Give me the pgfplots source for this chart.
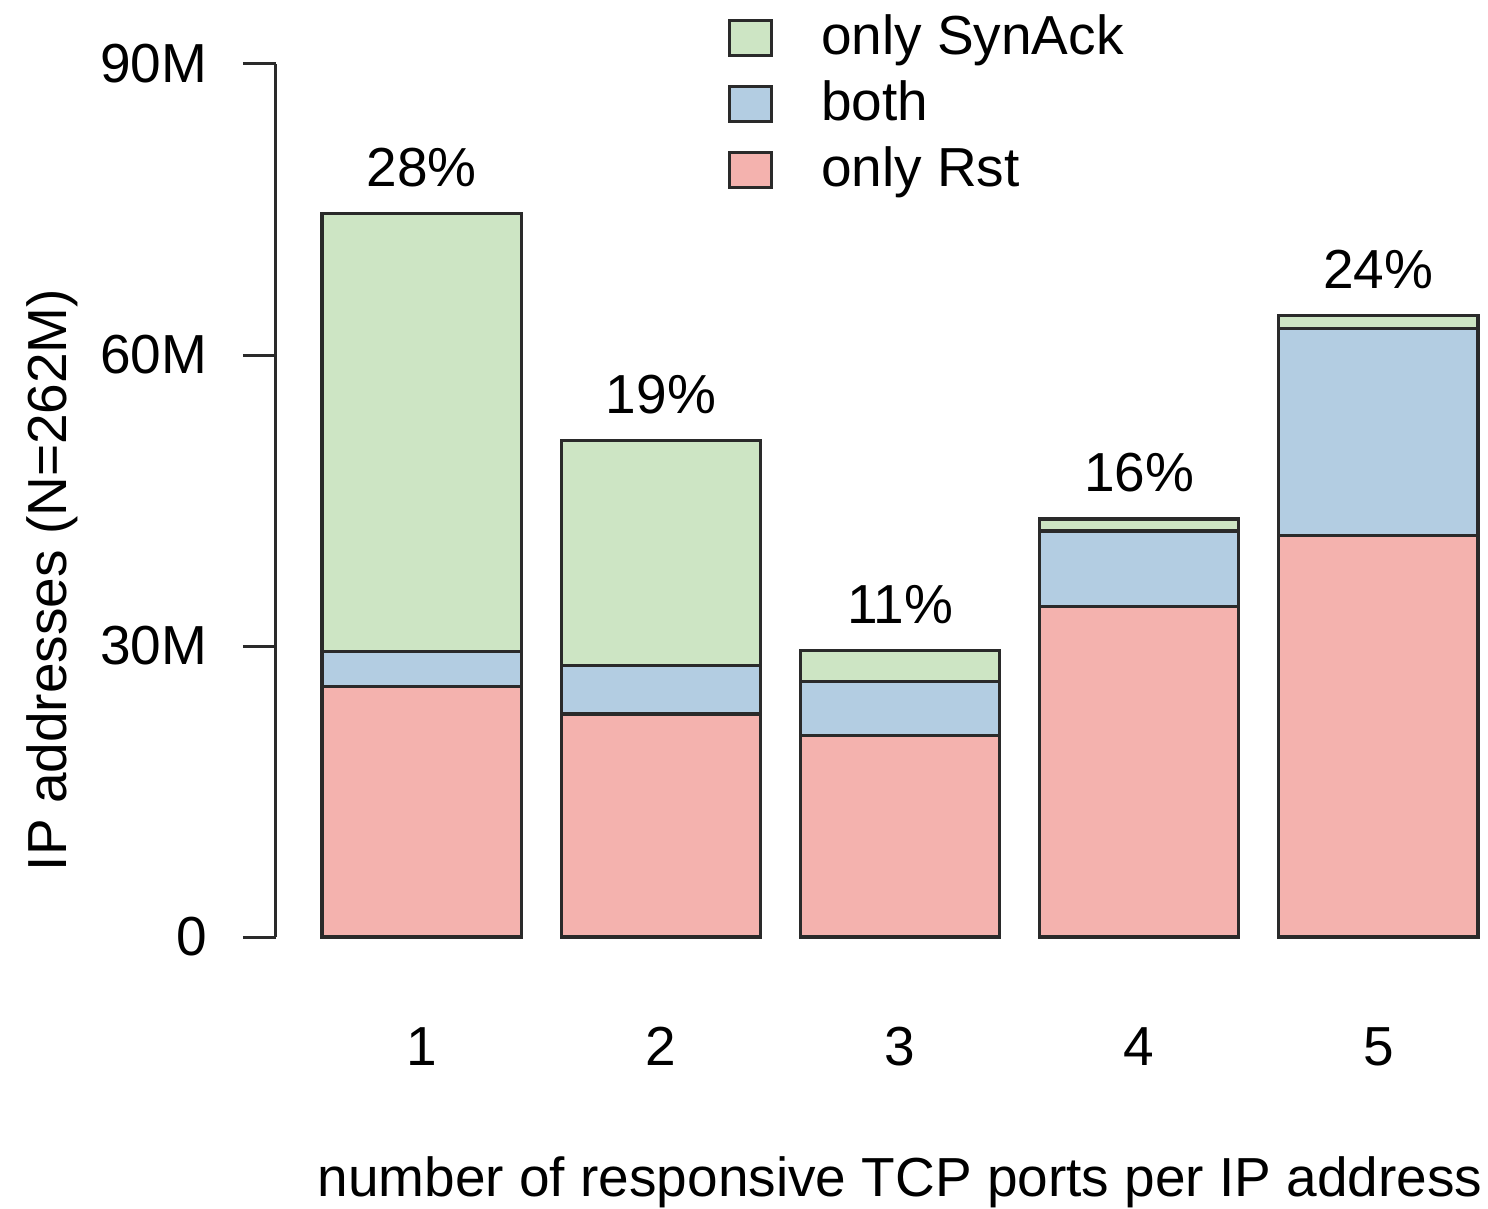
\documentclass[border=0pt]{standalone}
\usepackage{fontspec}
\setmainfont{Liberation Sans}
\usepackage{pgfplots}
\pgfplotsset{compat=1.18}
\definecolor{cgreen}{HTML}{CDE5C4}
\definecolor{cblue}{HTML}{B3CDE2}
\definecolor{cred}{HTML}{F4B2AE}
\definecolor{cline}{HTML}{2A2A2A}
\newcommand\fs{\fontsize{13.75}{16.5}\selectfont}
\begin{document}
\begin{tikzpicture}[font=\fs]
\begin{axis}[
  x=49.825pt, y=2.425pt,
  xmin=-0.032, xmax=6.232, ymin=0, ymax=90,
  ybar stacked, bar width=1,
  clip=false,
  axis lines=left,
  axis line style={-, cline, line width=0.75pt},
  x axis line style={draw=none},
  xtick={0.7,1.9,3.1,4.3,5.5},
  xticklabels={1,2,3,4,5},
  xtick style={draw=none},
  ytick={0,30,60,90},
  yticklabels={0,30M,60M,90M},
  ytick style={cline, line width=0.75pt},
  tick align=outside,
  major tick length=8.25pt,
  /pgf/number format/assume math mode=true,
  yticklabel style={anchor=east, inner sep=0pt, xshift=-8.75pt},
  xticklabel style={anchor=base, inner sep=0pt, yshift=-23.75pt},
  xlabel={number of responsive TCP ports per IP address},
  xlabel style={at={(axis description cs:0.5,0)}, anchor=base, inner sep=0pt, yshift=-64.75pt},
  ylabel={IP addresses (N=262M)},
  ylabel style={at={(axis description cs:-0.1673,0.409)}, anchor=base, inner sep=0pt, rotate=0},
  every axis plot/.append style={draw=cline, line width=0.8pt},
  reverse legend,
  legend image code/.code={\draw[#1, line width=0.8pt] (0pt,-0.1pt) rectangle (10.5pt,8.65pt); \path (22.5pt,0pt);},
  legend style={at={(axis cs:2.172,95.77)}, anchor=north west, draw=none, fill=none,
    nodes={inner sep=0pt, text height=9.5pt, text depth=3pt, anchor=base west}, row sep=4pt, cells={anchor=west}},
]
\addplot[fill=cred] coordinates {(0.7,25.8) (1.9,23.0) (3.1,20.8) (4.3,34.1) (5.5,41.4)};
\addlegendentry{only Rst}
\addplot[fill=cblue] coordinates {(0.7,3.6) (1.9,4.95) (3.1,5.5) (4.3,7.75) (5.5,21.35)};
\addlegendentry{both}
\addplot[fill=cgreen] coordinates {(0.7,45.15) (1.9,23.2) (3.1,3.2) (4.3,1.25) (5.5,1.35)};
\addlegendentry{only SynAck}
\node[anchor=base, inner sep=0pt] at (axis cs:0.7,77.35) {28\%};
\node[anchor=base, inner sep=0pt] at (axis cs:1.9,53.95) {19\%};
\node[anchor=base, inner sep=0pt] at (axis cs:3.1,32.3) {11\%};
\node[anchor=base, inner sep=0pt] at (axis cs:4.3,45.9) {16\%};
\node[anchor=base, inner sep=0pt] at (axis cs:5.5,66.9) {24\%};
\coordinate (bbA) at (axis cs:-1.416,96.60);
\coordinate (bbB) at (axis cs:6.050,-28.04);
\end{axis}
\pgfresetboundingbox
\path[use as bounding box] (bbA) rectangle (bbB);
\end{tikzpicture}
\end{document}
